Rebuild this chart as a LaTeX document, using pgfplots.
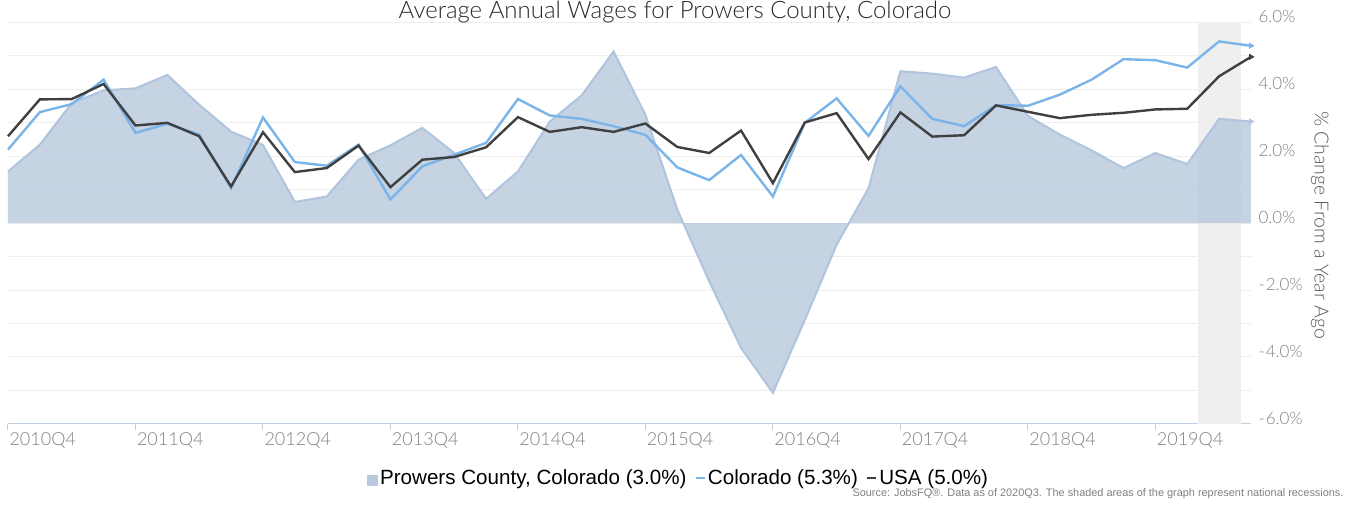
\documentclass[border=0pt]{standalone}
\usepackage{fontspec}
\usepackage{pgfplots}
\pgfplotsset{compat=1.18}
\usepackage{pgfplotstable}
\setmainfont{Lato}
\newfontfamily\latolight{Lato Light}
\newfontfamily\arialf{Liberation Sans}
\definecolor{areafill}{RGB}{184,201,221}
\definecolor{areaedge}{RGB}{176,196,222}
\definecolor{colblue}{RGB}{122,180,232}
\definecolor{coldark}{RGB}{64,64,64}
\definecolor{gridgray}{RGB}{238,238,238}
\definecolor{recess}{RGB}{239,239,239}
\definecolor{axisblue}{RGB}{192,208,225}
\definecolor{tickgray}{RGB}{128,128,128}
\definecolor{titlegray}{RGB}{40,40,40}
\definecolor{labgray}{RGB}{90,90,90}

\pgfplotstableread{
i P C U
0 1.54 2.19 2.59
1 2.34 3.31 3.69
2 3.58 3.55 3.70
3 3.96 4.28 4.15
4 4.02 2.69 2.91
5 4.42 2.96 2.99
6 3.53 2.64 2.59
7 2.73 1.04 1.09
8 2.33 3.15 2.71
9 0.63 1.82 1.52
10 0.79 1.71 1.64
11 1.89 2.34 2.31
12 2.32 0.70 1.07
13 2.84 1.69 1.89
14 2.09 2.04 1.97
15 0.72 2.39 2.26
16 1.54 3.70 3.16
17 3.03 3.21 2.72
18 3.81 3.11 2.86
19 5.12 2.89 2.72
20 3.23 2.63 2.97
21 0.40 1.66 2.27
22 -1.74 1.28 2.09
23 -3.73 2.03 2.76
24 -5.07 0.79 1.19
25 -2.90 2.99 3.00
26 -0.65 3.72 3.28
27 1.04 2.60 1.91
28 4.53 4.08 3.30
29 4.46 3.11 2.58
30 4.34 2.89 2.62
31 4.66 3.52 3.51
32 3.20 3.50 3.32
33 2.64 3.83 3.13
34 2.17 4.28 3.23
35 1.64 4.89 3.29
36 2.09 4.86 3.39
37 1.76 4.64 3.41
38 3.11 5.42 4.38
39 3.03 5.29 4.96
}\datatable

\begin{document}
\begin{tikzpicture}[x=1pt,y=1pt]
\begin{axis}[
  at={(8pt,84pt)}, anchor=south west,
  scale only axis, width=1243pt, height=402pt,
  xmin=0, xmax=39, ymin=-6, ymax=6,
  enlargelimits=false, clip=false,
  axis x line*=bottom, axis y line*=right,
  x axis line style={draw=axisblue, line width=1pt, -},
  y axis line style={draw=none},
  xtick={0,4,...,36},
  xticklabels={2010Q4,2011Q4,2012Q4,2013Q4,2014Q4,2015Q4,2016Q4,2017Q4,2018Q4,2019Q4},
  xtick style={draw=axisblue, line width=1pt},
  major tick length=6pt, tick align=outside,
  xticklabel style={anchor=north west, xshift=-2pt, yshift=1pt, font=\latolight\fontsize{18}{20}\selectfont, text=tickgray},
  ytick={-6,-4,...,6},
  yticklabels={-\kern1pt6.0\%,-\kern1pt4.0\%,-\kern1pt2.0\%,0.0\%,2.0\%,4.0\%,6.0\%},
  minor ytick={-5,-3,...,5},
  ytick style={draw=none}, minor tick style={draw=none},
  yticklabel pos=right,
  yticklabel style={anchor=west, xshift=-2pt, yshift=6pt, font=\latolight\fontsize{17}{20}\selectfont, text=tickgray},
  ymajorgrids, yminorgrids,
  major grid style={draw=gridgray, line width=1pt},
  minor grid style={draw=gridgray, line width=1pt},
  legend columns=3,
  legend style={at={(rel axis cs:0.5395,-0.134)}, anchor=center, draw=none, fill=none,
    font=\arialf\fontsize{20.6}{24}\selectfont, text=black,
    /tikz/every even column/.append style={column sep=6pt},
    nodes={inner xsep=2pt}},
]
\fill[recess] (axis cs:37.35,-6) rectangle (axis cs:38.7,6);
\addplot[draw=none, fill=areafill, fill opacity=0.82,
  legend image code/.code={\fill[areafill, fill opacity=1] (0pt,-8pt) rectangle (11pt,3pt);}]
  table[x=i,y=P]{\datatable} \closedcycle;
\addlegendentry{Prowers County, Colorado (3.0\%)}
\addplot[areaedge, line width=2pt, forget plot, mark=triangle*, mark indices={40}, mark size=2.6pt, mark options={rotate=-90, fill=areaedge, draw=areaedge, line width=1pt}]
  table[x=i,y=P]{\datatable};
\addplot[colblue, line width=2.4pt, mark=triangle*, mark indices={40}, mark size=2.6pt, mark options={rotate=-90, fill=colblue, line width=1pt},
  legend image code/.code={\draw[colblue, line width=2.4pt] (0pt,0pt) -- (9pt,0pt);}]
  table[x=i,y=C]{\datatable};
\addlegendentry{Colorado (5.3\%)}
\addplot[coldark, line width=2.4pt, mark=triangle*, mark indices={40}, mark size=2.6pt, mark options={rotate=-90, fill=coldark, line width=1pt},
  legend image code/.code={\draw[coldark, line width=2.4pt] (0pt,0pt) -- (9pt,0pt);}]
  table[x=i,y=U]{\datatable};
\addlegendentry{USA (5.0\%)}
\end{axis}
\node[anchor=base, font=\latolight\fontsize{24}{28}\selectfont, text=titlegray] at (675pt,489pt) {Average Annual Wages for Prowers County, Colorado};
\node[rotate=-90, anchor=center, font=\latolight\fontsize{19.5}{22}\selectfont, text=labgray] at (1320pt,283pt) {\% Change From a Year Ago};
\node[anchor=east, font=\arialf\fontsize{10.9}{12}\selectfont, text=tickgray] at (1347pt,14pt) {Source: JobsFQ\textregistered. Data as of 2020Q3. The shaded areas of the graph represent national recessions.};
\pgfresetboundingbox
\useasboundingbox (0pt,0pt) rectangle (1351pt,508pt);
\end{tikzpicture}
\end{document}
